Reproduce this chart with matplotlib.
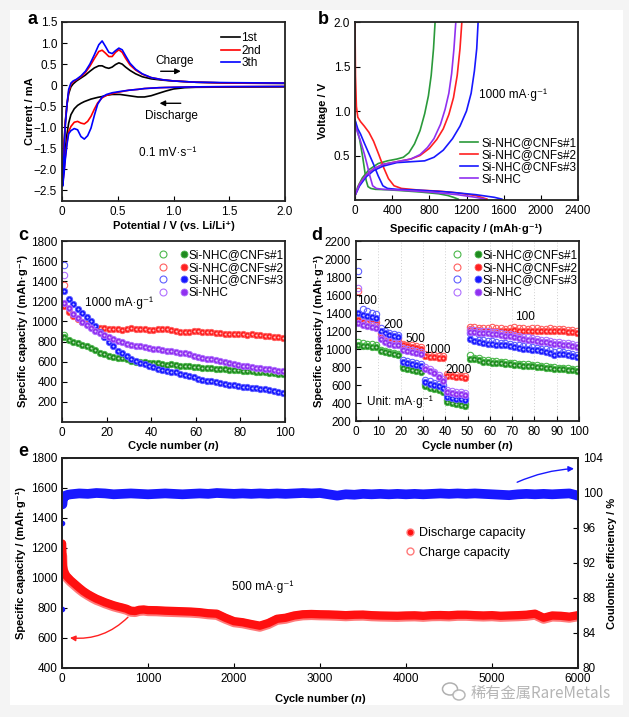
import matplotlib
matplotlib.use('Agg')
import matplotlib.pyplot as plt
from matplotlib.lines import Line2D
from matplotlib.legend_handler import HandlerTuple
from matplotlib.patches import FancyArrowPatch, Rectangle, Ellipse

# ---------------- data ----------------
# (a) cyclic voltammetry, 1st/2nd/3rd cycle
cv_v_dis = [2.0, 1.5, 1.2, 1.1, 1.0, 0.93, 0.87, 0.8, 0.74, 0.68, 0.6, 0.52, 0.45, 0.4, 0.36,
            0.32, 0.29, 0.26, 0.23, 0.2, 0.17, 0.14, 0.11, 0.08, 0.06, 0.045, 0.03, 0.02, 0.012, 0.005]
cv_i_dis_1 = [-0.04, -0.045, -0.05, -0.06, -0.09, -0.14, -0.19, -0.25, -0.28, -0.28, -0.25, -0.22, -0.22, -0.24, -0.27,
              -0.29, -0.31, -0.33, -0.36, -0.39, -0.43, -0.48, -0.56, -0.7, -0.9, -1.15, -1.5, -1.8, -2.0, -2.2]
cv_i_dis_2 = [-0.03, -0.035, -0.04, -0.045, -0.05, -0.055, -0.06, -0.07, -0.08, -0.1, -0.12, -0.16, -0.2, -0.24, -0.3,
              -0.42, -0.57, -0.74, -0.86, -0.92, -0.9, -0.86, -0.88, -0.98, -1.1, -1.35, -1.7, -2.0, -2.2, -2.3]
cv_i_dis_3 = [-0.03, -0.035, -0.04, -0.045, -0.05, -0.055, -0.06, -0.07, -0.08, -0.1, -0.12, -0.15, -0.18, -0.22, -0.28,
              -0.45, -0.72, -1.02, -1.2, -1.28, -1.22, -1.06, -1.03, -1.08, -1.15, -1.4, -1.75, -2.05, -2.25, -2.4]
cv_v_chg = [0.005, 0.012, 0.02, 0.03, 0.045, 0.06, 0.08, 0.1, 0.13, 0.17, 0.21, 0.25, 0.29, 0.33, 0.36, 0.39,
            0.42, 0.45, 0.48, 0.51, 0.54, 0.57, 0.61, 0.66, 0.72, 0.8, 0.9, 1.0, 1.2, 1.5, 2.0]
cv_i_chg_1 = [-2.2, -1.8, -1.3, -0.85, -0.45, -0.2, -0.04, 0.03, 0.1, 0.17, 0.24, 0.33, 0.41, 0.46, 0.46, 0.42,
              0.40, 0.43, 0.49, 0.53, 0.5, 0.43, 0.35, 0.27, 0.2, 0.15, 0.12, 0.1, 0.07, 0.05, 0.04]
cv_i_chg_2 = [-2.3, -1.9, -1.4, -0.9, -0.45, -0.15, 0.02, 0.08, 0.13, 0.2, 0.3, 0.45, 0.63, 0.8, 0.83, 0.76,
              0.68, 0.68, 0.78, 0.84, 0.78, 0.64, 0.48, 0.36, 0.26, 0.18, 0.13, 0.1, 0.07, 0.05, 0.05]
cv_i_chg_3 = [-2.4, -2.0, -1.5, -0.95, -0.45, -0.1, 0.05, 0.1, 0.14, 0.22, 0.33, 0.5, 0.72, 0.96, 1.05, 0.92,
              0.78, 0.75, 0.82, 0.88, 0.84, 0.7, 0.52, 0.38, 0.27, 0.18, 0.13, 0.1, 0.07, 0.06, 0.05]
cv_labels = ['1st', '2nd', '3th']

# (b) first charge/discharge profiles at 1000 mA/g
samples = ['Si-NHC@CNFs#1', 'Si-NHC@CNFs#2', 'Si-NHC@CNFs#3', 'Si-NHC']
b_dis_cap = [
    [0, 20, 50, 80, 100, 120, 140, 170, 220, 350, 500, 700, 900, 1000, 1060, 1110],
    [0, 5, 15, 30, 60, 100, 150, 200, 260, 310, 360, 420, 500, 700, 900, 1100, 1300, 1420],
    [0, 30, 60, 100, 150, 200, 250, 300, 350, 450, 700, 1000, 1300, 1500, 1580],
    [0, 30, 60, 100, 130, 160, 190, 230, 300, 500, 800, 1100, 1300, 1400],
]
b_dis_v = [
    [0.9, 0.8, 0.68, 0.5, 0.36, 0.22, 0.15, 0.13, 0.12, 0.115, 0.105, 0.09, 0.07, 0.05, 0.03, 0.01],
    [2.0, 1.4, 1.05, 0.93, 0.88, 0.83, 0.76, 0.66, 0.5, 0.36, 0.24, 0.16, 0.13, 0.11, 0.1, 0.08, 0.05, 0.01],
    [0.9, 0.8, 0.74, 0.64, 0.52, 0.4, 0.27, 0.16, 0.13, 0.12, 0.11, 0.09, 0.06, 0.03, 0.01],
    [0.85, 0.75, 0.66, 0.52, 0.4, 0.27, 0.16, 0.13, 0.12, 0.11, 0.09, 0.06, 0.03, 0.01],
]
b_chg_cap = [
    [0, 30, 80, 150, 250, 350, 450, 520, 580, 640, 700, 750, 790, 820, 845, 862],
    [0, 50, 120, 200, 300, 450, 600, 700, 800, 880, 950, 1010, 1060, 1100, 1130, 1150],
    [0, 50, 120, 200, 300, 450, 600, 750, 850, 950, 1050, 1130, 1200, 1250, 1285, 1310, 1325],
    [0, 50, 120, 200, 300, 450, 600, 700, 780, 850, 920, 970, 1010, 1040, 1065, 1085],
]
b_chg_v = [
    [0.05, 0.15, 0.25, 0.34, 0.41, 0.44, 0.46, 0.48, 0.53, 0.63, 0.78, 0.97, 1.17, 1.4, 1.7, 2.0],
    [0.05, 0.18, 0.28, 0.35, 0.4, 0.43, 0.46, 0.5, 0.58, 0.68, 0.8, 0.96, 1.15, 1.4, 1.7, 2.0],
    [0.05, 0.16, 0.26, 0.33, 0.38, 0.42, 0.43, 0.44, 0.48, 0.56, 0.69, 0.83, 1.0, 1.2, 1.45, 1.7, 2.0],
    [0.05, 0.18, 0.28, 0.35, 0.4, 0.43, 0.46, 0.51, 0.59, 0.69, 0.85, 1.02, 1.2, 1.42, 1.7, 2.0],
]

# (c) cycling at 1000 mA/g (odd cycles 1..99)
c_cycles = list(range(1, 100, 2))
c_cap = [
    [850, 815, 800, 785, 770, 752, 735, 720, 690, 672, 655, 645, 640, 635, 625, 610, 600, 598, 592, 588,
     583, 585, 578, 570, 572, 565, 560, 555, 552, 548, 545, 540, 540, 535, 530, 528, 525, 522, 520, 515,
     512, 508, 505, 502, 498, 495, 490, 485, 480, 475],
    [1150, 1095, 1055, 1020, 990, 970, 955, 945, 935, 930, 928, 925, 920, 918, 925, 932, 928, 925, 920, 915,
     918, 922, 925, 920, 915, 905, 900, 898, 895, 905, 902, 900, 898, 895, 890, 885, 880, 878, 880, 875,
     872, 870, 875, 868, 862, 860, 855, 848, 842, 835],
    [1300, 1220, 1170, 1120, 1080, 1045, 1000, 950, 895, 845, 800, 755, 705, 685, 660, 625, 605, 590, 572, 558,
     545, 530, 515, 505, 500, 495, 482, 472, 460, 448, 432, 420, 412, 405, 398, 385, 378, 370, 365, 358,
     350, 345, 340, 335, 330, 325, 318, 312, 300, 285],
    [1180, 1130, 1075, 1030, 990, 960, 930, 905, 885, 865, 848, 830, 810, 795, 780, 765, 758, 752, 745, 738,
     730, 722, 715, 710, 705, 698, 690, 682, 675, 660, 648, 640, 630, 622, 615, 605, 595, 582, 575, 568,
     560, 552, 548, 540, 535, 530, 525, 518, 512, 505],
]
c_first_open = [870, 1360, 1560, 1460]   # 1st-cycle discharge

# (d) rate capability (odd cycles 1..99)
d_cycles = list(range(1, 100, 2))
d_fill = [
    [1045, 1035, 1030, 1025, 1020, 975, 965, 955, 945, 930, 790, 775, 765, 755, 740, 590, 570, 555, 540, 520,
     415, 400, 390, 378, 365, 890, 885, 875, 860, 855, 850, 845, 840, 835, 830, 825, 820, 815, 812, 808,
     800, 795, 790, 785, 780, 778, 775, 770, 765, 760],
    [1320, 1305, 1295, 1285, 1275, 1150, 1130, 1120, 1110, 1100, 1040, 1030, 1020, 1010, 1000, 925, 915, 910, 905, 900,
     700, 695, 690, 685, 680, 1220, 1215, 1210, 1205, 1205, 1200, 1205, 1200, 1195, 1205, 1210, 1200, 1205, 1195, 1200,
     1205, 1200, 1195, 1200, 1195, 1200, 1195, 1190, 1185, 1180],
    [1395, 1380, 1370, 1360, 1350, 1200, 1175, 1155, 1140, 1135, 860, 845, 835, 825, 810, 635, 615, 600, 585, 570,
     470, 460, 450, 440, 430, 1110, 1085, 1075, 1065, 1060, 1055, 1050, 1045, 1040, 1030, 1020, 1010, 1005, 1000, 990,
     985, 975, 965, 960, 935, 950, 945, 930, 920, 910],
    [1290, 1270, 1255, 1240, 1230, 1110, 1080, 1060, 1045, 1040, 990, 980, 970, 960, 950, 780, 760, 730, 690, 640,
     520, 510, 500, 495, 490, 1190, 1185, 1180, 1178, 1175, 1170, 1165, 1160, 1150, 1140, 1135, 1125, 1115, 1105, 1100,
     1090, 1080, 1075, 1068, 1060, 1055, 1045, 1040, 1030, 1020],
]
d_open = [
    [1080, 1070, 1060, 1055, 1050, 990, 980, 970, 960, 950, 810, 795, 785, 775, 765, 610, 590, 575, 560, 545,
     430, 415, 405, 395, 385, 930, 905, 895, 880, 875, 870, 862, 858, 852, 848, 842, 838, 832, 828, 822,
     818, 812, 808, 802, 798, 792, 788, 785, 780, 775],
    [1640, 1340, 1320, 1305, 1295, 1175, 1150, 1140, 1130, 1120, 1060, 1050, 1040, 1030, 1020, 945, 935, 930, 925, 920,
     720, 712, 708, 702, 698, 1250, 1240, 1235, 1230, 1235, 1240, 1235, 1230, 1225, 1230, 1240, 1230, 1235, 1225, 1230,
     1235, 1225, 1220, 1230, 1225, 1225, 1220, 1215, 1210, 1205],
    [1870, 1440, 1420, 1400, 1385, 1230, 1200, 1180, 1170, 1160, 880, 865, 855, 845, 835, 660, 640, 625, 610, 595,
     495, 485, 475, 465, 455, 1180, 1120, 1105, 1095, 1090, 1085, 1078, 1072, 1068, 1058, 1048, 1040, 1032, 1028, 1018,
     1012, 1002, 995, 988, 965, 978, 972, 958, 948, 938],
    [1680, 1300, 1285, 1270, 1260, 1135, 1105, 1085, 1070, 1065, 1010, 1000, 990, 980, 970, 800, 780, 750, 710, 665,
     545, 535, 525, 518, 510, 1215, 1210, 1205, 1200, 1198, 1192, 1188, 1182, 1172, 1162, 1158, 1148, 1138, 1128, 1122,
     1112, 1102, 1098, 1090, 1082, 1078, 1068, 1062, 1052, 1042],
]
d_rate_labels = ['100', '200', '500', '1000', '2000', '100']

# (e) long-term cycling at 500 mA/g
e_cycles = [1, 3, 6, 10, 20, 35, 50, 75, 100, 150, 200, 250, 300, 350, 400, 450, 500, 550, 600, 650, 700, 750,
            800, 850, 900, 950, 1000, 1100, 1200, 1300, 1400, 1500, 1600, 1700, 1800, 1900, 2000, 2100, 2200,
            2300, 2400, 2500, 2600, 2700, 2800, 2900, 3000, 3100, 3200, 3300, 3400, 3500, 3600, 3700, 3800,
            3900, 4000, 4100, 4200, 4300, 4400, 4500, 4600, 4700, 4800, 4900, 5000, 5100, 5200, 5300, 5400,
            5500, 5600, 5700, 5800, 5900, 6000]
e_discharge = [1230, 1200, 1130, 1080, 1050, 1030, 1015, 1000, 985, 960, 935, 912, 893, 877, 862, 850, 838, 828,
               818, 810, 803, 795, 782, 780, 788, 790, 786, 785, 782, 780, 778, 776, 772, 765, 762, 735, 712, 705,
               693, 682, 700, 728, 735, 750, 758, 760, 758, 757, 755, 752, 755, 756, 752, 750, 749, 748, 750, 751,
               748, 752, 753, 751, 755, 755, 752, 750, 752, 748, 750, 752, 755, 762, 735, 750, 748, 742, 752]
e_charge = [1065, 1150, 1110, 1065, 1040, 1020, 1005, 990, 975, 950, 925, 903, 885, 868, 853, 842, 830, 820, 810,
            802, 795, 787, 774, 772, 780, 782, 778, 777, 774, 772, 770, 768, 764, 757, 753, 727, 704, 697, 685,
            674, 692, 720, 727, 742, 750, 752, 750, 749, 747, 744, 747, 748, 744, 742, 741, 740, 742, 743, 740,
            744, 745, 743, 747, 747, 744, 742, 744, 740, 742, 744, 747, 754, 727, 742, 740, 734, 744]
ce_cycles_first = [1, 2]
ce_first = [86.7, 96.6]
ce_cycles = [5, 10, 20, 40, 70, 100, 200, 300, 400, 500, 600, 700, 800, 900, 1000, 1100, 1200, 1300, 1400, 1500,
             1600, 1700, 1800, 1900, 2000, 2100, 2200, 2300, 2400, 2500, 2600, 2700, 2800, 2900, 3000, 3100, 3200,
             3300, 3400, 3500, 3600, 3700, 3800, 3900, 4000, 4100, 4200, 4300, 4400, 4500, 4600, 4700, 4800, 4900,
             5000, 5100, 5200, 5300, 5400, 5500, 5600, 5700, 5800, 5900, 6000]
ce_values = [98.7, 99.2, 99.5, 99.7, 99.8, 99.85, 99.95, 99.9, 100.0, 99.95, 99.85, 99.9, 99.95, 99.9, 99.85, 99.9,
             99.95, 99.9, 99.85, 99.9, 99.95, 99.9, 100.0, 99.95, 99.9, 99.95, 99.9, 99.95, 99.9, 99.95, 99.9,
             99.95, 100.0, 99.95, 100.0, 99.85, 99.7, 99.85, 99.8, 99.9, 99.85, 99.9, 99.85, 99.9, 99.85, 99.9,
             99.85, 99.9, 99.95, 99.9, 99.95, 99.9, 99.95, 99.9, 99.85, 99.8, 99.75, 99.85, 99.9, 99.85, 99.9,
             99.85, 99.9, 99.95, 99.7]

# ---------------- style ----------------
plt.rcParams['font.family'] = ['Liberation Sans', 'DejaVu Sans']
plt.rcParams['font.size'] = 8.5
plt.rcParams['mathtext.fontset'] = 'custom'
plt.rcParams['mathtext.it'] = 'Liberation Sans:italic:bold'
plt.rcParams['mathtext.rm'] = 'Liberation Sans:bold'
plt.rcParams['xtick.direction'] = 'in'
plt.rcParams['ytick.direction'] = 'in'
plt.rcParams['xtick.major.size'] = 3.5
plt.rcParams['ytick.major.size'] = 3.5
plt.rcParams['axes.linewidth'] = 1.3
plt.rcParams['axes.edgecolor'] = '#222222'

colors = ['#2a9a3a', '#ff2020', '#1818ff', '#9030f0']
dot_colors = ['#1f8a1f', '#ff2020', '#1818ff', '#9030f0']
open_colors = ['#4cb84c', '#ff6060', '#6060ff', '#b070ff']

W, H = 629, 717
fig = plt.figure(figsize=(W / 100, H / 100), dpi=100)
fig.patch.set_facecolor('#f4f4f4')
fig.patches.append(Rectangle((10 / W, 12 / H), 613 / W, 695 / H, transform=fig.transFigure,
                             facecolor='white', edgecolor='none', zorder=-10))


def box(l, t, r, b):
    return [l / W, 1 - b / H, (r - l) / W, (b - t) / H]


def place_labels(ax, xl_top, yl_x, xl_x=None):
    # label positions given in picture pixels
    if xl_x is None:
        bb = ax.get_position()
        xl_x = (bb.x0 + bb.x1) / 2 * W
    ax.xaxis.set_label_coords(xl_x / W, 1 - xl_top / H, transform=fig.transFigure)
    ax.yaxis.set_label_coords(yl_x / W, (ax.get_position().y0 + ax.get_position().y1) / 2,
                              transform=fig.transFigure)


label_kw = dict(fontsize=8, fontweight='bold')

# ---------------- (a) ----------------
ax = fig.add_axes(box(62, 22, 285, 201))
for idis, ichg, col, lab in zip([cv_i_dis_1, cv_i_dis_2, cv_i_dis_3], [cv_i_chg_1, cv_i_chg_2, cv_i_chg_3],
                                ['black', '#ff0000', '#0000ff'], cv_labels):
    ax.plot(cv_v_dis + cv_v_chg, idis + ichg, color=col, lw=1.2, label=lab)
ax.set_xlim(0, 2.0)
ax.set_ylim(-2.75, 1.5)
ax.set_xticks([0, 0.5, 1.0, 1.5, 2.0])
ax.set_xticklabels(['0', '0.5', '1.0', '1.5', '2.0'])
ax.set_yticks([-2.5, -2.0, -1.5, -1.0, -0.5, 0, 0.5, 1.0, 1.5])
ax.set_yticklabels(['\u22122.5', '\u22122.0', '\u22121.5', '\u22121.0', '\u22120.5', '0', '0.5', '1.0', '1.5'])
ax.set_xlabel('Potential / V (vs. Li/Li\u207a)', **label_kw)
ax.set_ylabel('Current / mA', **label_kw)
ax.legend(loc='upper right', bbox_to_anchor=(0.93, 0.99), frameon=False, handlelength=1.6,
          handletextpad=0.1, labelspacing=0.05, borderpad=0.2)
ax.text(1.01, 0.57, 'Charge', ha='center', va='center')
ax.annotate('', xy=(1.09, 0.33), xytext=(0.86, 0.33),
            arrowprops=dict(arrowstyle='-|>', color='black', lw=1, mutation_scale=8))
ax.text(0.98, -0.74, 'Discharge', ha='center', va='center')
ax.annotate('', xy=(0.85, -0.43), xytext=(1.09, -0.43),
            arrowprops=dict(arrowstyle='-|>', color='black', lw=1, mutation_scale=8))
ax.text(0.95, -1.6, '0.1 mV\u00b7s\u207b\u00b9', ha='center', va='center')
place_labels(ax, 221, 35)

# ---------------- (b) ----------------
ax = fig.add_axes(box(355, 22, 578, 200))
for i in range(4):
    ax.plot(b_dis_cap[i], b_dis_v[i], color=colors[i], lw=1.2)
    ax.plot(b_chg_cap[i], b_chg_v[i], color=colors[i], lw=1.2, label=samples[i])
ax.set_xlim(0, 2400)
ax.set_ylim(0, 2.0)
ax.set_xticks(range(0, 2401, 400))
ax.set_yticks([0.5, 1.0, 1.5, 2.0])
ax.set_xlabel('Specific capacity / (mAh\u00b7g\u207b\u00b9)', **label_kw)
ax.set_ylabel('Voltage / V', **label_kw)
ax.text(1700, 1.18, '1000 mA\u00b7g\u207b\u00b9', ha='center', va='center')
ax.legend(loc='lower right', bbox_to_anchor=(1.03, 0.035), frameon=False, handlelength=1.5,
          handletextpad=0.3, labelspacing=0.02, borderpad=0.2)
place_labels(ax, 224, 328)


def dot_legend(ax, anchor):
    handles = []
    for i in range(4):
        h_open = Line2D([], [], ls='none', marker='o', ms=5, mfc='none', mec=open_colors[i], mew=0.8)
        h_fill = Line2D([], [], ls='none', marker='o', ms=5, mfc=dot_colors[i], mec=open_colors[i], mew=0.6)
        handles.append((h_open, h_fill))
    ax.legend(handles, samples, handler_map={tuple: HandlerTuple(ndivide=None, pad=1.2)},
              loc='upper right', bbox_to_anchor=anchor, frameon=False, handlelength=2.4,
              handletextpad=0.05, labelspacing=0.05, borderpad=0.2)


def shiny_dots(ax, x, y, col, edge):
    ax.plot(x, y, ls='none', marker='o', ms=4.6, mfc=col, mec=edge, mew=0.6)
    ax.plot(x, y, ls='none', marker='o', ms=1.4, mfc='white', mec='none', alpha=0.75)


# ---------------- (c) ----------------
ax = fig.add_axes(box(62, 241, 285, 422))
for i in range(4):
    shiny_dots(ax, c_cycles, c_cap[i], dot_colors[i], open_colors[i])
    ax.plot([c_cycles[0]], [c_first_open[i]], ls='none', marker='o', ms=4.6, mfc='none',
            mec=open_colors[i], mew=0.8)
ax.set_xlim(0, 100)
ax.set_ylim(0, 1800)
ax.set_xticks(range(0, 101, 20))
ax.set_yticks(range(200, 1801, 200))
ax.set_xlabel('Cycle number ($n$)', **label_kw)
ax.set_ylabel('Specific capacity / (mAh\u00b7g\u207b\u00b9)', **label_kw)
ax.text(25.5, 1183, '1000 mA\u00b7g\u207b\u00b9', ha='center', va='center')
dot_legend(ax, (1.03, 1.0))
place_labels(ax, 439, 28)

# ---------------- (d) ----------------
ax = fig.add_axes(box(356, 241, 579, 421))
for xv in range(10, 100, 10):
    ax.axvline(xv, color='#d0d0d0', lw=0.7, ls=(0, (1, 2)), zorder=0)
for i in range(4):
    ax.plot(d_cycles, d_open[i], ls='none', marker='o', ms=4.6, mfc='none', mec=open_colors[i], mew=0.8)
    shiny_dots(ax, d_cycles, d_fill[i], dot_colors[i], open_colors[i])
ax.set_xlim(0, 100)
ax.set_ylim(200, 2200)
ax.set_xticks(range(0, 101, 10))
ax.set_yticks(range(200, 2201, 200))
ax.set_xlabel('Cycle number ($n$)', **label_kw)
ax.set_ylabel('Specific capacity / (mAh\u00b7g\u207b\u00b9)', **label_kw)
for lab, xy in zip(d_rate_labels, [(5, 1528), (16.6, 1271), (26.5, 1110), (36.3, 991), (45.9, 767), (75.7, 1353)]):
    ax.text(xy[0], xy[1], lab, ha='center', va='center')
ax.text(5, 409, 'Unit: mA\u00b7g\u207b\u00b9', ha='left', va='center')
dot_legend(ax, (1.03, 1.0))
place_labels(ax, 439, 324)

# ---------------- (e) ----------------
ax = fig.add_axes(box(62, 458, 578, 668))
ax.plot(e_cycles, e_charge, color='#ff7a7a', lw=7, solid_capstyle='round', zorder=2)
ax.plot(e_cycles, e_discharge, color='#ff1010', lw=6, solid_capstyle='round', zorder=3)
ax.set_xlim(0, 6000)
ax.set_ylim(400, 1800)
ax.set_xticks(range(0, 6001, 1000))
ax.set_yticks(range(400, 1801, 200))
ax.set_xlabel('Cycle number ($n$)', **label_kw)
ax.set_ylabel('Specific capacity / (mAh\u00b7g\u207b\u00b9)', **label_kw)
ax.text(2329, 942, '500 mA\u00b7g\u207b\u00b9', ha='center', va='center')
leg_handles = [Line2D([], [], ls='none', marker='o', ms=5, mfc='#ff1010', mec='#ff7a7a'),
               Line2D([], [], ls='none', marker='o', ms=5, mfc='none', mec='#ff7a7a')]
ax.legend(leg_handles, ['Discharge capacity', 'Charge capacity'], loc='center left',
          bbox_to_anchor=(0.643, 0.595), frameon=False, handlelength=0.8, handletextpad=0.3,
          labelspacing=0.6, fontsize=9)
ax.add_patch(FancyArrowPatch((790, 752), (60, 603), connectionstyle='arc3,rad=-0.25',
                             arrowstyle='-|>', mutation_scale=8, color='#ff2020', lw=1))
place_labels(ax, 692, 26)

ax2 = ax.twinx()
ax2.plot(ce_cycles_first, ce_first, ls='none', marker='o', ms=3, color='#1818ff')
ax2.plot(ce_cycles, ce_values, color='#1818ff', lw=7, solid_capstyle='round')
ax2.set_ylim(80, 104)
ax2.set_yticks(range(80, 105, 4))
ax2.set_ylabel('Coulombic efficiency / %', **label_kw)
ax2.yaxis.set_label_coords(607 / W, (ax.get_position().y0 + ax.get_position().y1) / 2,
                           transform=fig.transFigure)
ax2.add_patch(FancyArrowPatch((5263, 101.1), (5986, 102.8), connectionstyle='arc3,rad=-0.1',
                              arrowstyle='-|>', mutation_scale=8, color='#1818ff', lw=1))

# panel letters
for letter, (px, py) in zip('abcde', [(32, 20), (323, 20), (23, 236), (317, 235), (23, 452)]):
    fig.text(px / W, 1 - py / H, letter, fontsize=13, fontweight='bold', ha='center', va='center')

# watermark with a small chat-bubble icon
fig.text(541 / W, 1 - 693 / H, '稀有金属RareMetals', family=['Noto Sans CJK SC', 'DejaVu Sans'],
         fontsize=11, color='#a8a8a8', alpha=0.85, ha='center', va='center')
fig.patches.append(Ellipse((450 / W, 1 - 689 / H), 15 / W, 12 / H, transform=fig.transFigure,
                           facecolor='none', edgecolor='#b0b0b0', lw=1.1))
fig.patches.append(Ellipse((459 / W, 1 - 695 / H), 12 / W, 10 / H, transform=fig.transFigure,
                           facecolor='white', edgecolor='#b0b0b0', lw=1.1, alpha=0.9))

fig.savefig('out.png', dpi=100, facecolor=fig.get_facecolor())
